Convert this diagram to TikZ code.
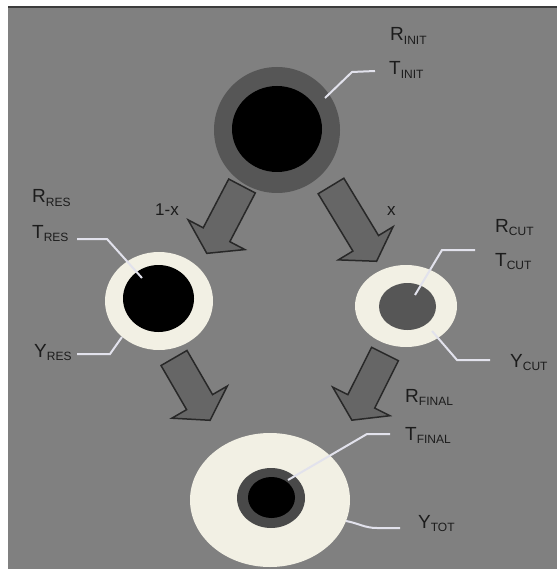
\documentclass[tikz,border=0pt]{standalone}
\usepackage{fontspec}
\setmainfont{Liberation Sans}
\usetikzlibrary{shapes.geometric}
\definecolor{bg}{RGB}{128,128,128}
\definecolor{ringgray}{RGB}{86,86,86}
\definecolor{cream}{RGB}{242,240,228}
\definecolor{leader}{RGB}{226,226,236}
\definecolor{arrowfill}{RGB}{102,102,102}
\definecolor{arrowline}{RGB}{40,40,40}
\definecolor{txt}{RGB}{28,28,28}
\newcommand{\lbl}[2]{#1\raisebox{-3.5pt}{\fontsize{12}{12}\selectfont #2}}
\tikzset{
  disc/.style={ellipse, inner sep=0pt, draw=none},
  leaderline/.style={draw=leader, line width=2pt},
  labeltext/.style={anchor=base west, inner sep=0pt, text=txt, font=\fontsize{19}{19}\selectfont},
  pics/blockarrow/.style={code={
    \draw[fill=arrowfill, draw=arrowline, line width=1.5pt, line join=miter]
      (0,-15) -- (#1-21,-15) -- (#1-21,-32) -- (#1,0) -- (#1-21,32) -- (#1-21,15) -- (0,15) -- cycle;
  }}
}
\begin{document}
\begin{tikzpicture}[x=1pt, y=-1pt]
\useasboundingbox (0,0) rectangle (557,569);
\fill[white] (0,0) rectangle (557,569);
\fill[bg] (8,7) rectangle (557,569);
\draw[color={rgb,255:red,60;green,60;blue,60}, line width=2pt] (8,7) -- (557,7);

% circles
\node[disc, fill=ringgray, minimum width=126pt, minimum height=126pt] (initO) at (277,130) {};
\node[disc, fill=black, minimum width=90pt, minimum height=86pt] (initI) at (277,129) {};

\node[disc, fill=cream, minimum width=108pt, minimum height=98pt] (resO) at (159,301) {};
\node[disc, fill=black, minimum width=71pt, minimum height=67pt] (resI) at (158.5,298.5) {};

\node[disc, fill=cream, minimum width=102pt, minimum height=82pt] (cutO) at (406,306) {};
\node[disc, fill=ringgray, minimum width=57pt, minimum height=47pt] (cutI) at (407.5,306.5) {};

\node[disc, fill=cream, minimum width=160pt, minimum height=134pt] (finO) at (270,500) {};
\node[disc, fill=ringgray!85!black, minimum width=68pt, minimum height=60pt] (finR) at (271,498) {};
\node[disc, fill=black, minimum width=47pt, minimum height=41pt] (finI) at (271.5,497.5) {};

% block arrows
\pic[rotate=242.4] at (242,186) {blockarrow=76};
\pic[rotate=-58.8] at (331,186) {blockarrow=88};
\pic[rotate=-59.9] at (174,358) {blockarrow=72};
\pic[rotate=243.4] at (385,354) {blockarrow=74};

% arrow labels
\node[labeltext, font=\fontsize{17}{17}\selectfont] (onex) at (155,215) {1-x};
\node[labeltext, font=\fontsize{17}{17}\selectfont] (xlab) at (387,215) {x};

% labels
\node[labeltext] (Rinit) at (390,41) {\lbl{R}{INIT}};
\node[labeltext] (Tinit) at (389,75) {\lbl{T}{INIT}};
\node[labeltext] (Rres) at (32,203) {\lbl{R}{RES}};
\node[labeltext] (Tres) at (32,238) {\lbl{T}{RES}};
\node[labeltext] (Yres) at (34,357) {\lbl{Y}{RES}};
\node[labeltext] (Rcut) at (495,232) {\lbl{R}{CUT}};
\node[labeltext] (Tcut) at (495,266) {\lbl{T}{CUT}};
\node[labeltext] (Ycut) at (510,367) {\lbl{Y}{CUT}};
\node[labeltext] (Rfin) at (405,402) {\lbl{R}{FINAL}};
\node[labeltext] (Tfin) at (405,440) {\lbl{T}{FINAL}};
\node[labeltext] (Ytot) at (418,528) {\lbl{Y}{TOT}};

% leader coordinates
\coordinate (a1) at (375,71);  \coordinate (a2) at (352,72);  \coordinate (a3) at (325,98);
\coordinate (b1) at (77,239);  \coordinate (b2) at (107,239); \coordinate (b3) at (142,278);
\coordinate (c1) at (77,354);  \coordinate (c2) at (110,354); \coordinate (c3) at (122,337);
\coordinate (d1) at (475,250); \coordinate (d2) at (442,250); \coordinate (d3) at (415,295);
\coordinate (e1) at (490,360); \coordinate (e2) at (457,360); \coordinate (e3) at (432,331);
\coordinate (f1) at (390,434); \coordinate (f2) at (367,434); \coordinate (f3) at (288,480);
\coordinate (g1) at (400,528); \coordinate (g2) at (377,528); \coordinate (g3) at (346,521);

\draw[leaderline] (a1) -- (a2) -- (a3);
\draw[leaderline] (b1) -- (b2) -- (b3);
\draw[leaderline] (c1) -- (c2) -- (c3);
\draw[leaderline] (d1) -- (d2) -- (d3);
\draw[leaderline] (e1) -- (e2) -- (e3);
\draw[leaderline] (f1) -- (f2) -- (f3);
\draw[leaderline] (g1) -- (g2) to[out=180, in=-10] (g3);
\end{tikzpicture}
\end{document}
